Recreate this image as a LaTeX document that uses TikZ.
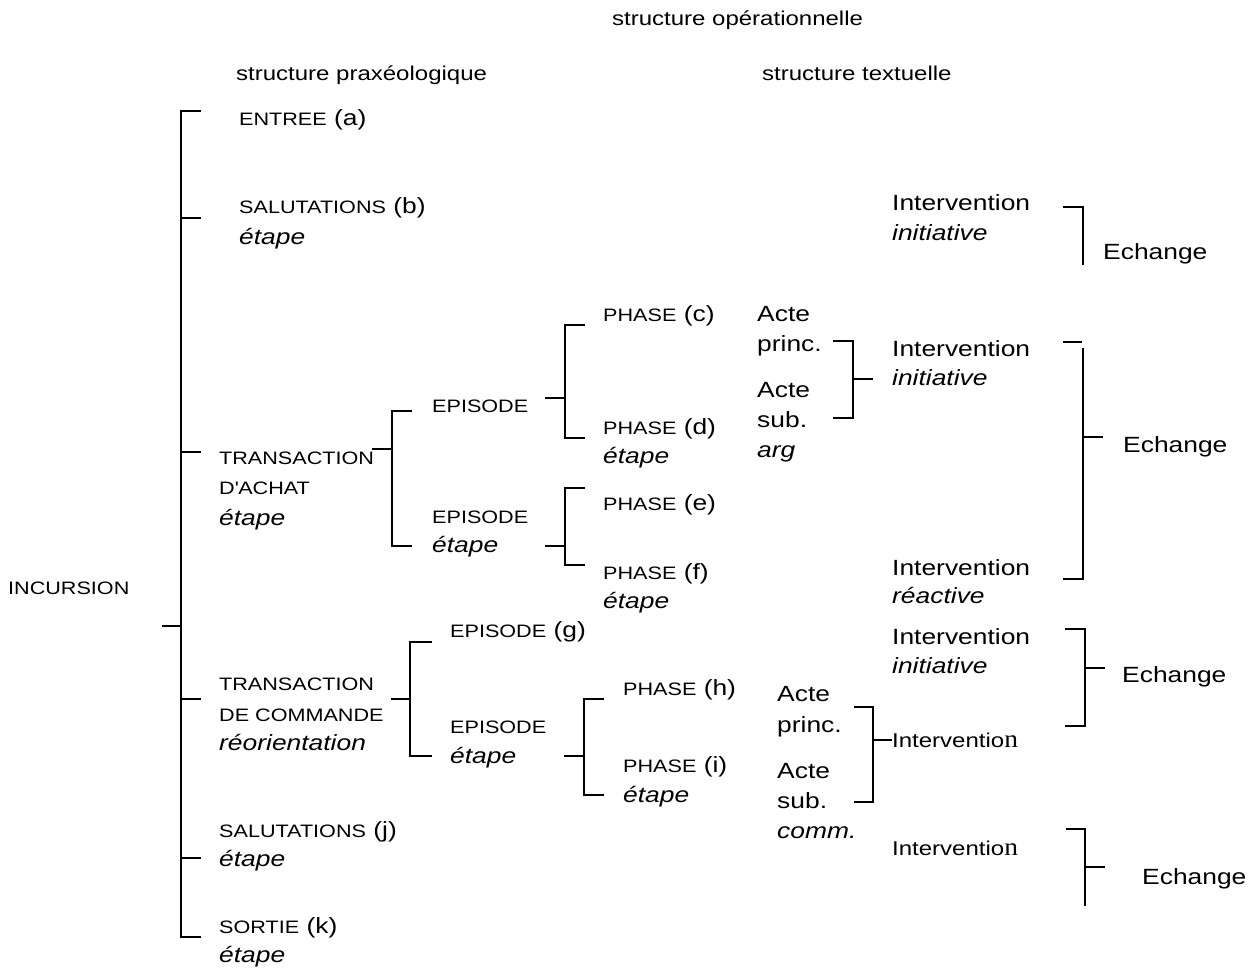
\documentclass[tikz,border=0pt]{standalone}
\usepackage{fontspec}
\setmainfont{Liberation Sans}[FakeStretch=1.2]
\newfontfamily\serifn{Liberation Serif}[FakeStretch=1.1]
\newcommand\fsmall{\fontsize{18}{30}\selectfont}
\newcommand\flarge{\fontsize{22}{30}\selectfont}
\newcommand\fhead{\fontsize{20}{30}\selectfont}
\newcommand\fmid{\fontsize{20}{30}\selectfont}
\newcommand\bign{{\serifn\fontsize{25}{30}\selectfont n}}
\tikzset{
  lbl/.style={anchor=base west, inner sep=0pt, font=\flarge},
  sml/.style={lbl, font=\fsmall},
  hdr/.style={lbl, font=\fhead},
  mainbar/.style={line width=2pt},
  bar/.style={line width=1.7pt},
}
\begin{document}
\begin{tikzpicture}[x=1pt, y=-1pt]
\useasboundingbox (0,0) rectangle (1251,968);

% headings
\node[hdr] (hop) at (612,26) {structure opérationnelle};
\node[hdr] (hpx) at (236,81) {structure praxéologique};
\node[hdr] (htx) at (762,81) {structure textuelle};

% root
\node[sml] (incursion) at (8,594) {INCURSION};

% praxeological steps
\node[lbl] (entree) at (239,126) {{\fsmall ENTREE} (a)};
\node[lbl] (salb) at (239,214) {{\fsmall SALUTATIONS} (b)};
\node[lbl] (salbe) at (239,245) {\itshape étape};
\node[sml] (tra1) at (219,464) {TRANSACTION};
\node[sml] (tra2) at (219,494) {D\textquotesingle ACHAT};
\node[lbl] (tra3) at (219,525) {\itshape étape};
\node[sml] (trc1) at (219,690) {TRANSACTION};
\node[sml] (trc2) at (219,721) {DE COMMANDE};
\node[lbl] (trc3) at (219,750) {\itshape réorientation};
\node[lbl] (salj) at (219,837) {{\fsmall SALUTATIONS} (j)};
\node[lbl] (salje) at (219,866) {\itshape étape};
\node[lbl] (sort) at (219,933) {{\fsmall SORTIE} (k)};
\node[lbl] (sorte) at (219,962) {\itshape étape};

% episodes
\node[sml] (ep1) at (432,413) {EPISODE};
\node[sml] (ep2) at (432,523) {EPISODE};
\node[lbl] (ep2e) at (432,552) {\itshape étape};
\node[lbl] (ep3) at (450,637) {{\fsmall EPISODE} (g)};
\node[sml] (ep4) at (450,733) {EPISODE};
\node[lbl] (ep4e) at (450,763) {\itshape étape};

% phases
\node[lbl] (phc) at (603,322) {{\fsmall PHASE} (c)};
\node[lbl] (phd) at (603,434) {{\fsmall PHASE} (d)};
\node[lbl] (phde) at (603,463) {\itshape étape};
\node[lbl] (phe) at (603,510) {{\fsmall PHASE} (e)};
\node[lbl] (phf) at (603,579) {{\fsmall PHASE} (f)};
\node[lbl] (phfe) at (603,608) {\itshape étape};
\node[lbl] (phh) at (623,695) {{\fsmall PHASE} (h)};
\node[lbl] (phi) at (623,772) {{\fsmall PHASE} (i)};
\node[lbl] (phie) at (623,802) {\itshape étape};

% acts
\node[lbl] (a1) at (757,322) {Acte};
\node[lbl] (a1b) at (757,352) {princ.};
\node[lbl] (a2) at (757,397) {Acte};
\node[lbl] (a2b) at (757,428) {sub.};
\node[lbl] (a2c) at (757,457) {\itshape arg};
\node[lbl] (a3) at (777,701) {Acte};
\node[lbl] (a3b) at (777,732) {princ.};
\node[lbl] (a4) at (777,778) {Acte};
\node[lbl] (a4b) at (777,808) {sub.};
\node[lbl] (a4c) at (777,838) {\itshape comm.};

% interventions
\node[lbl] (i1) at (892,211) {Intervention};
\node[lbl] (i1b) at (892,241) {\itshape initiative};
\node[lbl] (i2) at (892,357) {Intervention};
\node[lbl] (i2b) at (892,386) {\itshape initiative};
\node[lbl] (i3) at (892,575) {Intervention};
\node[lbl] (i3b) at (892,603) {\itshape réactive};
\node[lbl] (i4) at (892,644) {Intervention};
\node[lbl] (i4b) at (892,673) {\itshape initiative};
\node[lbl, font=\fmid] (i5) at (892,747) {Interventio\bign};
\node[lbl, font=\fmid] (i6) at (892,855) {Interventio\bign};

% exchanges
\node[lbl] (e1) at (1103,260) {Echange};
\node[lbl] (e2) at (1123,452) {Echange};
\node[lbl] (e3) at (1122,682) {Echange};
\node[lbl] (e4) at (1142,884) {Echange};

% main bracket of the incursion
\draw[mainbar] (201,111) -- (181,111) -- (181,937) -- (201,937);
\draw[mainbar] (181,218) -- (201,218);
\draw[mainbar] (181,452) -- (201,452);
\draw[mainbar] (162,626) -- (181,626);
\draw[mainbar] (181,699) -- (201,699);
\draw[mainbar] (181,858) -- (201,858);

% transaction d'achat
\draw[bar] (372,449) -- (392,449);
\draw[bar] (412,411) -- (392,411) -- (392,546) -- (412,546);
\draw[bar] (545,398) -- (565,398);
\draw[bar] (585,325) -- (565,325) -- (565,438) -- (585,438);
\draw[bar] (545,546) -- (565,546);
\draw[bar] (585,488) -- (565,488) -- (565,565) -- (585,565);

% acts of phase (c)/(d)
\draw[bar] (833,341) -- (853,341) -- (853,418) -- (833,418);
\draw[bar] (853,379) -- (873,379);

% exchanges, upper part
\draw[bar] (1063,207) -- (1083,207) -- (1083,265);
\draw[bar] (1063,342) -- (1082,342);
\draw[bar] (1083,348) -- (1083,579) -- (1063,579);
\draw[bar] (1083,437) -- (1103,437);

% transaction de commande
\draw[bar] (391,699) -- (410,699);
\draw[bar] (432,642) -- (410,642) -- (410,756) -- (432,756);
\draw[bar] (564,756) -- (584,756);
\draw[bar] (604,699) -- (584,699) -- (584,795) -- (604,795);

% acts of phase (h)/(i)
\draw[bar] (854,707) -- (873,707) -- (873,802) -- (854,802);
\draw[bar] (873,740) -- (892,740);

% exchanges, lower part
\draw[bar] (1065,629) -- (1085,629) -- (1085,726) -- (1065,726);
\draw[bar] (1085,668) -- (1105,668);
\draw[bar] (1066,829) -- (1085,829) -- (1085,906);
\draw[bar] (1085,867) -- (1105,867);
\end{tikzpicture}
\end{document}
